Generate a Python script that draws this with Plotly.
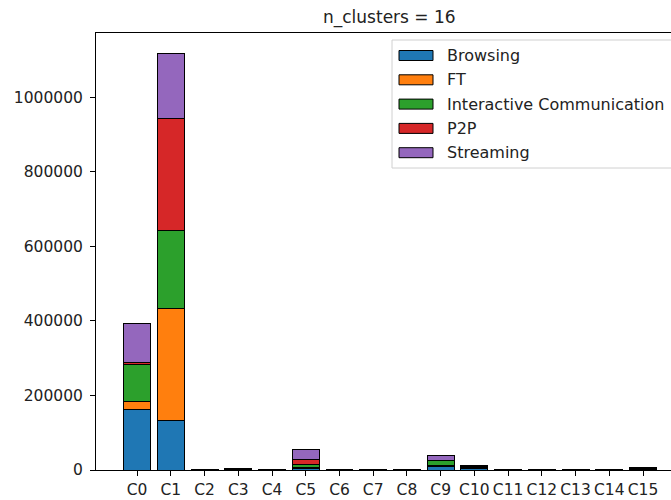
import plotly.graph_objects as go

# Flow counts per cluster, split by traffic class
clusters = [f"C{i}" for i in range(16)]
browsing = [162600, 133900, 1000, 2000, 300, 3000, 200, 200, 600, 10000, 4000, 200, 200, 200, 200, 2500]
ft = [22200, 298300, 300, 800, 100, 4000, 100, 100, 200, 1500, 2000, 100, 100, 100, 100, 1000]
interactive = [98300, 210500, 700, 1200, 200, 8000, 100, 100, 400, 13000, 3000, 100, 100, 100, 100, 2000]
p2p = [6100, 300000, 200, 400, 100, 12000, 50, 50, 100, 1000, 1000, 50, 50, 50, 50, 500]
streaming = [102900, 173300, 300, 600, 100, 29000, 50, 50, 200, 13000, 2000, 50, 50, 50, 50, 1000]

series_names = ["Browsing", "FT", "Interactive Communication", "P2P", "Streaming"]
series_values = [browsing, ft, interactive, p2p, streaming]
colors = ["#1f77b4", "#ff7f0e", "#2ca02c", "#d62728", "#9467bd"]
y_ticks = [0, 200000, 400000, 600000, 800000, 1000000]

FONT = "DejaVu Sans"
W, H = 671, 500
L, R, T, B = 96, 0, 33, 30
PW, PH = W - L - R, H - T - B


def px(x):
    return (x - L) / PW


def py(y):
    return (H - B - y) / PH


fig = go.Figure()
for name, vals, col in zip(series_names, series_values, colors):
    fig.add_trace(go.Bar(
        x=clusters, y=vals, name=name, width=0.8,
        marker=dict(color=col, line=dict(color="black", width=1)),
        showlegend=False,
    ))

totals = [sum(v) for v in zip(*series_values)]
ymax = max(totals) * 1.05

# Legend box (drawn by hand so the swatches are wide rectangles)
shapes = [dict(type="rect", xref="paper", yref="paper",
               x0=px(392), x1=px(700), y0=py(168), y1=py(40),
               line=dict(color="#d0d0d0", width=1), fillcolor="rgba(255,255,255,0.8)", layer="above")]
annotations = []
row0, step = 55.5, 24.3
for i, (name, col) in enumerate(zip(series_names, colors)):
    yc = row0 + i * step
    shapes.append(dict(type="rect", xref="paper", yref="paper",
                       x0=px(399), x1=px(433), y0=py(yc + 5), y1=py(yc - 5),
                       fillcolor=col, line=dict(color="black", width=1), layer="above"))
    annotations.append(dict(x=px(445), y=py(yc), xref="paper", yref="paper",
                            text=name, showarrow=False, xanchor="left", yanchor="middle",
                            font=dict(family=FONT, size=16, color="#222")))

annotations.append(dict(x=px(389), y=py(17.5), xref="paper", yref="paper",
                        text="n_clusters = 16", showarrow=False, xanchor="center", yanchor="middle",
                        font=dict(family=FONT, size=17, color="#222")))

fig.update_layout(
    width=W, height=H,
    margin=dict(l=L, r=R, t=T, b=B, autoexpand=False),
    barmode="stack",
    plot_bgcolor="white", paper_bgcolor="white",
    shapes=shapes, annotations=annotations,
    font=dict(family=FONT, size=15.5, color="#222"),
)
fig.update_xaxes(
    type="category", range=[-1.22, 15.83],
    showline=True, linecolor="black", linewidth=1, mirror=True,
    ticks="outside", ticklen=5, tickcolor="black", tickwidth=1,
    showgrid=False, zeroline=False,
    tickfont=dict(family=FONT, size=15.5, color="#222"),
)
fig.update_yaxes(
    range=[0, ymax], tickvals=y_ticks, ticktext=[str(v) for v in y_ticks],
    showline=True, linecolor="black", linewidth=1,
    ticks="outside", ticklen=5, tickcolor="black", tickwidth=1,
    ticklabelstandoff=4,
    showgrid=False, zeroline=False,
    tickfont=dict(family=FONT, size=15.5, color="#222"),
)

fig.write_html("out.html")
